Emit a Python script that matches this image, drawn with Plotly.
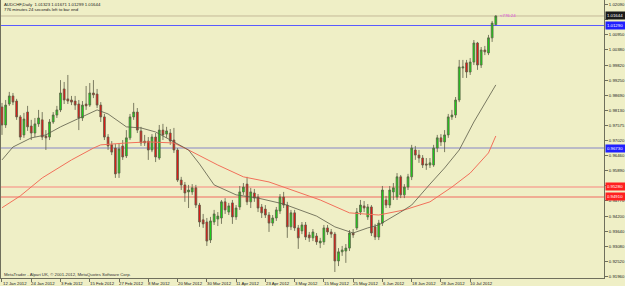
import plotly.graph_objects as go

# ---------------- data ----------------
opens = [0.9826,0.9759,0.9837,0.9867,0.9848,0.9789,0.9722,0.9807,0.9755,0.9729,
         0.9763,0.9778,0.9718,0.9714,0.9770,0.9796,0.9815,0.9893,0.9856,0.9852,
         0.9848,0.9837,0.9785,0.9837,0.9833,0.9878,0.9874,0.9833,0.9789,0.9714,
         0.9685,0.9673,0.9580,0.9681,0.9644,0.9711,0.9789,0.9807,0.9737,0.9699,
         0.9699,0.9666,0.9714,0.9636,0.9740,0.9725,0.9729,0.9703,0.9666,0.9554,
         0.9536,0.9510,0.9510,0.9525,0.9461,0.9406,0.9398,0.9331,0.9398,0.9409,
         0.9413,0.9473,0.9435,0.9469,0.9417,0.9454,0.9510,0.9539,0.9473,0.9506,
         0.9491,0.9454,0.9446,0.9424,0.9394,0.9413,0.9439,0.9491,0.9461,0.9380,
         0.9432,0.9376,0.9365,0.9387,0.9350,0.9339,0.9346,0.9320,0.9324,0.9376,
         0.9361,0.9353,0.9253,0.9287,0.9290,0.9301,0.9357,0.9376,0.9435,0.9458,
         0.9417,0.9454,0.9380,0.9342,0.9394,0.9480,0.9461,0.9510,0.9491,0.9566,
         0.9499,0.9528,0.9566,0.9666,0.9647,0.9636,0.9614,0.9610,0.9610,0.9673,
         0.9711,0.9696,0.9722,0.9789,0.9796,0.9852,0.9971,0.9990,0.9956,0.9993,
         1.0064,0.9982,1.0038,1.0027,1.0083,1.01323]
highs = [0.9841,0.9852,0.9882,0.9878,0.9856,0.9796,0.9804,0.9830,0.9778,0.9785,
         0.9815,0.9807,0.9740,0.9781,0.9807,0.9830,0.9926,0.9919,0.9945,0.9867,
         0.9867,0.9852,0.9848,0.9904,0.9915,0.9926,0.9893,0.9844,0.9800,0.9725,
         0.9699,0.9688,0.9692,0.9703,0.9740,0.9800,0.9841,0.9822,0.9752,0.9722,
         0.9714,0.9725,0.9729,0.9759,0.9763,0.9752,0.9744,0.9748,0.9673,0.9566,
         0.9547,0.9536,0.9539,0.9536,0.9469,0.9428,0.9413,0.9417,0.9443,0.9435,
         0.9480,0.9487,0.9469,0.9480,0.9461,0.9532,0.9543,0.9566,0.9525,0.9521,
         0.9502,0.9465,0.9461,0.9435,0.9424,0.9454,0.9502,0.9510,0.9473,0.9443,
         0.9443,0.9387,0.9398,0.9398,0.9361,0.9372,0.9357,0.9339,0.9387,0.9387,
         0.9372,0.9361,0.9301,0.9309,0.9316,0.9368,0.9372,0.9450,0.9480,0.9476,
         0.9465,0.9461,0.9391,0.9406,0.9532,0.9495,0.9532,0.9543,0.9580,0.9573,
         0.9539,0.9577,0.9685,0.9681,0.9666,0.9647,0.9636,0.9636,0.9685,0.9722,
         0.9725,0.9740,0.9800,0.9815,0.9863,1.0001,1.0001,1.0001,1.0008,1.0075,
         1.0068,1.0049,1.0053,1.0094,1.0146,1.01671]
lows = [0.9722,0.9748,0.9830,0.9833,0.9778,0.9703,0.9711,0.9737,0.9703,0.9714,
        0.9752,0.9703,0.9666,0.9703,0.9763,0.9785,0.9807,0.9837,0.9837,0.9833,
        0.9815,0.9740,0.9774,0.9815,0.9826,0.9859,0.9822,0.9770,0.9703,0.9666,
        0.9647,0.9562,0.9562,0.9629,0.9636,0.9703,0.9778,0.9729,0.9681,0.9681,
        0.9629,0.9658,0.9621,0.9629,0.9703,0.9711,0.9685,0.9655,0.9547,0.9517,
        0.9473,0.9450,0.9499,0.9450,0.9380,0.9376,0.9309,0.9320,0.9387,0.9383,
        0.9391,0.9428,0.9424,0.9391,0.9406,0.9443,0.9499,0.9461,0.9450,0.9473,
        0.9435,0.9413,0.9413,0.9361,0.9383,0.9402,0.9428,0.9450,0.9339,0.9368,
        0.9365,0.9298,0.9353,0.9331,0.9324,0.9327,0.9313,0.9301,0.9313,0.9350,
        0.9339,0.9212,0.9234,0.9272,0.9246,0.9290,0.9339,0.9368,0.9424,0.9435,
        0.9406,0.9346,0.9331,0.9331,0.9383,0.9450,0.9450,0.9480,0.9480,0.9487,
        0.9487,0.9517,0.9554,0.9629,0.9618,0.9599,0.9592,0.9599,0.9603,0.9658,
        0.9681,0.9658,0.9711,0.9778,0.9785,0.9844,0.9934,0.9934,0.9945,0.9982,
        0.9964,0.9971,1.0019,1.0019,1.0068,1.01299]
closes = [0.9759,0.9833,0.9867,0.9844,0.9789,0.9714,0.9781,0.9752,0.9729,0.9763,
          0.9785,0.9714,0.9711,0.9770,0.9796,0.9815,0.9878,0.9852,0.9848,0.9844,
          0.9833,0.9785,0.9833,0.9830,0.9878,0.9871,0.9833,0.9789,0.9714,0.9681,
          0.9658,0.9577,0.9670,0.9640,0.9711,0.9789,0.9807,0.9740,0.9692,0.9692,
          0.9666,0.9714,0.9640,0.9740,0.9722,0.9737,0.9699,0.9666,0.9554,0.9536,
          0.9506,0.9517,0.9525,0.9461,0.9398,0.9391,0.9327,0.9402,0.9428,0.9420,
          0.9473,0.9443,0.9458,0.9417,0.9450,0.9510,0.9528,0.9473,0.9510,0.9487,
          0.9450,0.9432,0.9424,0.9394,0.9413,0.9443,0.9491,0.9461,0.9380,0.9432,
          0.9376,0.9339,0.9387,0.9342,0.9339,0.9361,0.9324,0.9327,0.9376,0.9361,
          0.9353,0.9253,0.9287,0.9294,0.9301,0.9357,0.9350,0.9435,0.9461,0.9450,
          0.9454,0.9357,0.9342,0.9394,0.9517,0.9461,0.9517,0.9525,0.9566,0.9499,
          0.9528,0.9566,0.9673,0.9647,0.9636,0.9610,0.9610,0.9618,0.9673,0.9711,
          0.9696,0.9722,0.9789,0.9796,0.9852,0.9975,0.9975,0.9956,0.9993,1.0064,
          0.9982,1.0038,1.0031,1.0083,1.0138,1.01644]

# moving averages read at sample bars
ma_black_bar = [0, 3, 8, 12, 16, 21, 26, 29, 34, 38, 42, 47, 51, 54, 58, 64, 70, 77,
                86, 91, 96, 100, 103, 109, 112, 117, 121, 125, 129, 135]
ma_black_val = [0.9629, 0.9677, 0.9711, 0.9722, 0.9752, 0.9785, 0.9815, 0.9800, 0.9752,
                0.9748, 0.9733, 0.9696, 0.9666, 0.9614, 0.9536, 0.9499, 0.9487, 0.9465,
                0.9420, 0.9380, 0.9357, 0.9376, 0.9387, 0.9435, 0.9461, 0.9539, 0.9599,
                0.9666, 0.9770, 0.9908]
ma_red_bar = [0, 5, 11, 19, 25, 27, 34, 40, 47, 51, 59, 66, 73, 81, 87, 95, 103, 110,
              117, 123, 128, 133, 135]
ma_red_val = [0.9451, 0.9495, 0.9562, 0.9629, 0.9673, 0.9685, 0.9692, 0.9696, 0.9692,
              0.9666, 0.9610, 0.9566, 0.9547, 0.9510, 0.9480, 0.9432, 0.9424, 0.9443,
              0.9473, 0.9528, 0.9580, 0.9655, 0.9718]

tick_bar = [0, 8, 16, 24, 32, 40, 48, 56, 64, 72, 80, 88, 96, 104, 112, 120, 128]
tick_labels = ["12 Jan 2012", "24 Jan 2012", "3 Feb 2012", "15 Feb 2012", "27 Feb 2012",
               "8 Mar 2012", "20 Mar 2012", "30 Mar 2012", "11 Apr 2012", "23 Apr 2012",
               "3 May 2012", "15 May 2012", "25 May 2012", "6 Jun 2012", "18 Jun 2012",
               "28 Jun 2012", "10 Jul 2012"]

price_ticks = [0.91960, 0.92520, 0.93080, 0.93640, 0.94200, 0.94770, 0.95330, 0.95890,
               0.96460, 0.97020, 0.97575, 0.98130, 0.98690, 0.99250, 0.99820, 1.00380,
               1.00950, 1.01510, 1.02090]
# tick labels hidden behind the price boxes in the reference
price_tick_text = ["0.91960", "0.92520", "0.93080", "0.93640", "0.94200", "0.94770", "",
                   "0.95890", "0.96460", "0.97020", "0.97575", "0.98130", "0.98690",
                   "0.99250", "0.99820", "1.00380", "1.00950", "", "1.02090"]

# horizontal price lines: value, line colour, label background
hline_vals = [1.01644, 1.01290, 0.96733, 0.95283, 0.94911]
hline_colors = ["#c4ba98", "#5a5aff", "#a8a8c6", "#f6a896", "#f26a60"]
hline_widths = [1, 1, 1.6, 1.4, 1.2]
label_bg = ["#1a1a1a", "#2020ff", "#2020ff", "#ff2020", "#ff2020"]
label_txt = ["1.01644", "1.01290", "0.96730", "0.95280", "0.94910"]

header1 = "AUDCHF,Daily  1.01323 1.01671 1.01299 1.01644"
header2 = "776 minutes 24 seconds left to bar end"
copyright_txt = "MetaTrader - Alpari UK, \u00a9 2001-2012, MetaQuotes Software Corp."
timer_txt = "<776:24"

# ---------------- figure ----------------
W, H = 625, 286
BG = "#efefc6"
FRAME = "#6f6f5c"
FONT = "Liberation Sans"
FS = 4.3

bars = list(range(len(closes)))

fig = go.Figure()
fig.add_trace(go.Scatter(x=ma_red_bar, y=ma_red_val, mode="lines",
                         line=dict(color="#f2705a", width=1), hoverinfo="skip"))
fig.add_trace(go.Scatter(x=ma_black_bar, y=ma_black_val, mode="lines",
                         line=dict(color="#5a5a48", width=0.8), hoverinfo="skip"))
fig.add_trace(go.Candlestick(
    x=bars, open=opens, high=highs, low=lows, close=closes,
    increasing=dict(line=dict(color="#5e5e48", width=0.8), fillcolor="#12e012"),
    decreasing=dict(line=dict(color="#5e5e48", width=0.8), fillcolor="#f01010"),
    whiskerwidth=0, hoverinfo="skip"))

shapes = []
for v, c, w in zip(hline_vals, hline_colors, hline_widths):
    shapes.append(dict(type="line", xref="paper", x0=0, x1=1, yref="y", y0=v, y1=v,
                       line=dict(color=c, width=w), layer="below"))

annotations = []
for v, bg, t in zip(hline_vals, label_bg, label_txt):
    annotations.append(dict(xref="paper", x=1.0015, xanchor="left", yref="y", y=v,
                            yanchor="middle", text=t, showarrow=False, bgcolor=bg,
                            borderpad=1, width=19, align="left",
                            font=dict(family=FONT, size=FS, color="white")))
for b, t in zip(tick_bar, tick_labels):
    annotations.append(dict(xref="x", x=max(b - 0.5, -0.2), xanchor="left", yref="paper",
                            y=-0.018, yanchor="middle", text=t, showarrow=False,
                            font=dict(family=FONT, size=FS, color="#202020")))
annotations.append(dict(xref="paper", x=0.002, xanchor="left", yref="paper", y=0.984,
                        yanchor="middle", text=header1, showarrow=False,
                        font=dict(family=FONT, size=FS, color="#202020")))
annotations.append(dict(xref="paper", x=0.002, xanchor="left", yref="paper", y=0.967,
                        yanchor="middle", text=header2, showarrow=False,
                        font=dict(family=FONT, size=FS, color="#202020")))
annotations.append(dict(xref="paper", x=0.002, xanchor="left", yref="paper", y=0.013,
                        yanchor="middle", text=copyright_txt, showarrow=False,
                        font=dict(family=FONT, size=FS, color="#303030")))
annotations.append(dict(xref="x", x=len(closes) - 0.3, xanchor="left", yref="y",
                        y=closes[-1], yanchor="middle", text=timer_txt, showarrow=False,
                        font=dict(family=FONT, size=FS, color="#e040e0")))

fig.update_layout(
    width=W, height=H,
    margin=dict(l=1, r=19, t=0, b=8),
    paper_bgcolor=BG, plot_bgcolor=BG,
    showlegend=False,
    shapes=shapes, annotations=annotations,
    xaxis=dict(range=[-0.27, 164.58], rangeslider=dict(visible=False),
               showgrid=False, zeroline=False, showline=True, linecolor=FRAME,
               linewidth=1, ticks="outside", ticklen=3, tickcolor=FRAME,
               tickvals=tick_bar, showticklabels=False, fixedrange=True),
    yaxis=dict(range=[0.91897, 1.02239], side="right", showgrid=False, zeroline=False,
               showline=True, mirror=True, linecolor=FRAME, linewidth=1,
               ticks="outside", ticklen=3, tickcolor=FRAME, tickvals=price_ticks,
               ticktext=price_tick_text,
               tickfont=dict(family=FONT, size=FS, color="#202020"),
               fixedrange=True),
)

fig.write_html("out.html", config={"displayModeBar": False})
